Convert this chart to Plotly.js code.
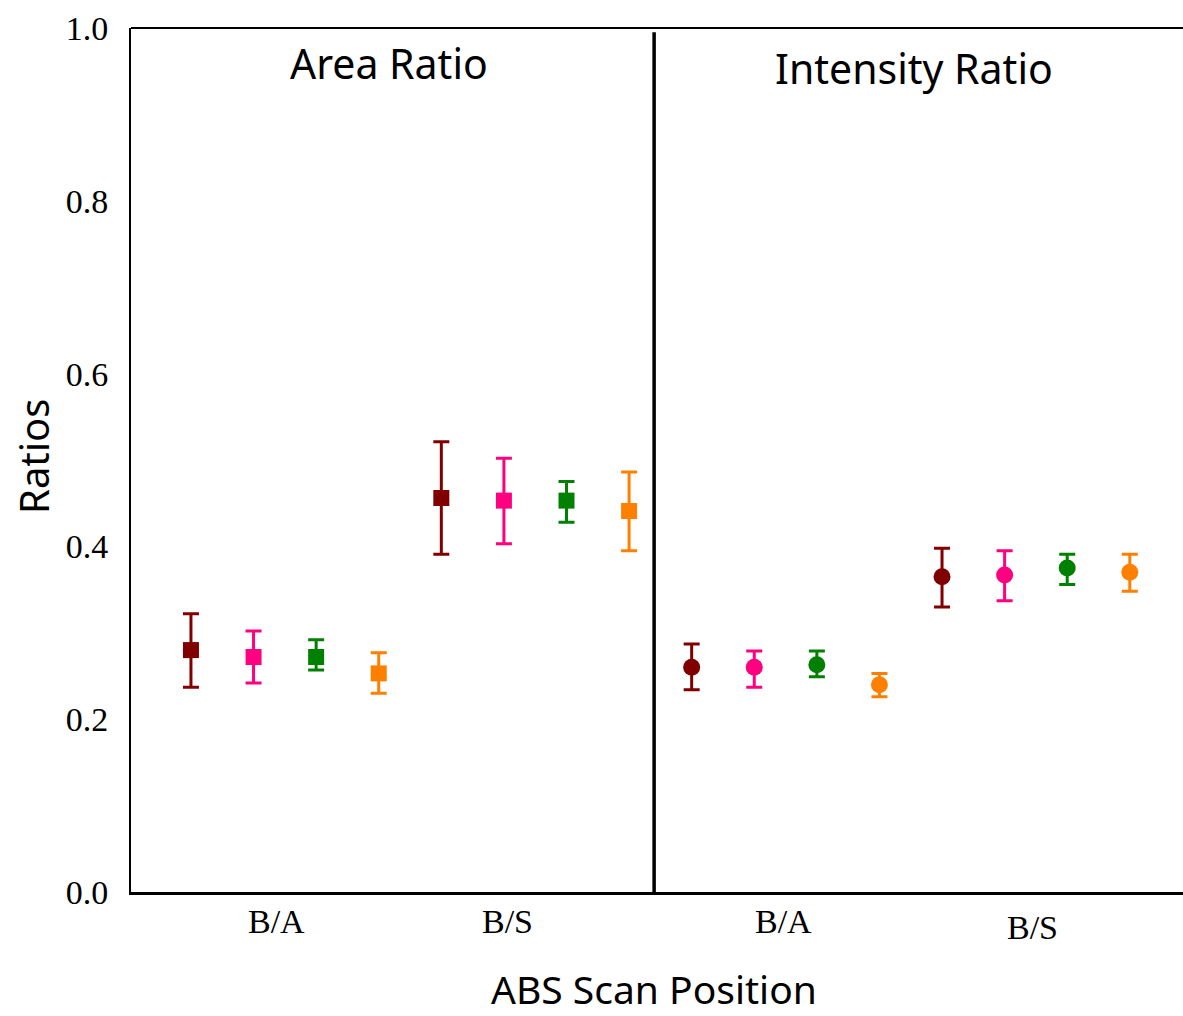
<!DOCTYPE html>
<html>
<head>
<meta charset="utf-8">
<script src="https://cdn.plot.ly/plotly-3.0.1.min.js"></script>
<style>html,body{margin:0;padding:0;background:#fff;}#chart{width:1183px;height:1016px;}</style>
</head>
<body>
<div id="chart"></div>
<script>
// Categories: panel / scan position
const panels = ['Area Ratio', 'Intensity Ratio'];
const scanPositions = ['B/A', 'B/S'];
// categories in order: Area B/A, Area B/S, Intensity B/A, Intensity B/S
const categoryLabels = ['B/A', 'B/S', 'B/A', 'B/S'];

const seriesNames = ['Series 1', 'Series 2', 'Series 3', 'Series 4'];
const seriesColors = ['#800000', '#FF0080', '#008000', '#FF8000'];

// mean values per series across the 4 categories
const series1Values = [0.280, 0.456, 0.260, 0.365];
const series2Values = [0.272, 0.453, 0.260, 0.367];
const series3Values = [0.272, 0.453, 0.263, 0.375];
const series4Values = [0.253, 0.441, 0.240, 0.370];

// upper error bar ends
const series1High = [0.322, 0.521, 0.287, 0.398];
const series2High = [0.302, 0.502, 0.279, 0.395];
const series3High = [0.292, 0.475, 0.279, 0.391];
const series4High = [0.277, 0.486, 0.253, 0.391];

// lower error bar ends
const series1Low = [0.237, 0.391, 0.234, 0.330];
const series2Low = [0.242, 0.403, 0.237, 0.337];
const series3Low = [0.257, 0.428, 0.249, 0.356];
const series4Low = [0.230, 0.395, 0.226, 0.348];

const yTicks = [0, 0.2, 0.4, 0.6, 0.8, 1.0];

const allValues = [series1Values, series2Values, series3Values, series4Values];
const allHigh = [series1High, series2High, series3High, series4High];
const allLow = [series1Low, series2Low, series3Low, series4Low];

const nSeries = seriesNames.length;
const traces = seriesNames.map((name, s) => {
  const vals = allValues[s];
  return {
    type: 'scatter',
    mode: 'markers',
    name: name,
    x: vals.map((v, c) => c * nSeries + s),
    y: vals,
    marker: {
      color: seriesColors[s],
      opacity: 1,
      size: vals.map((v, c) => c < 2 ? 16 : 17),
      symbol: vals.map((v, c) => c < 2 ? 'square' : 'circle'),
      line: {width: 0}
    },
    error_y: {
      type: 'data',
      symmetric: false,
      array: vals.map((v, c) => allHigh[s][c] - v),
      arrayminus: vals.map((v, c) => v - allLow[s][c]),
      color: seriesColors[s],
      thickness: 3,
      width: 8
    },
    showlegend: false,
    hoverinfo: 'x+y'
  };
});

const serif = 'Liberation Serif, Times New Roman, serif';
const sans = 'Noto Sans, DejaVu Sans, sans-serif';

const catLabelX = [1.36, 5.05, 9.46, 13.45];
const catLabelShift = [-29, -29, -29, -35];

const annotations = categoryLabels.map((t, i) => ({
  text: t, xref: 'x', yref: 'paper', x: catLabelX[i], y: 0,
  xanchor: 'center', yanchor: 'middle', yshift: catLabelShift[i],
  showarrow: false, font: {family: serif, size: 34, color: '#000'}
}));

annotations.push(
  {text: panels[0], xref: 'x', yref: 'paper', x: 3.16, y: 1, yshift: -35, xanchor: 'center', yanchor: 'middle',
   showarrow: false, font: {family: sans, size: 41, color: '#000'}},
  {text: panels[1], xref: 'x', yref: 'paper', x: 11.56, y: 1, yshift: -40, xanchor: 'center', yanchor: 'middle',
   showarrow: false, font: {family: sans, size: 41, color: '#000'}},
  {text: 'ABS Scan Position', xref: 'paper', yref: 'paper', x: 0.497, y: 0, yshift: -96, xanchor: 'center', yanchor: 'middle',
   showarrow: false, font: {family: sans, size: 39, color: '#000'}},
  {text: 'Ratios', xref: 'paper', yref: 'paper', x: 0, xshift: -98, y: 0.5, yshift: 3, xanchor: 'center', yanchor: 'middle',
   textangle: -90, showarrow: false, font: {family: sans, size: 40, color: '#000'}}
);

const layout = {
  width: 1183, height: 1016,
  margin: {l: 131, r: 0, t: 28, b: 124},
  paper_bgcolor: '#fff', plot_bgcolor: '#fff',
  showlegend: false,
  xaxis: {
    range: [-0.958, 15.85],
    showticklabels: false, ticks: '', showgrid: false, zeroline: false,
    showline: true, linecolor: '#000', linewidth: 3
  },
  yaxis: {
    range: [0, 1],
    tickvals: yTicks, tickformat: '.1f',
    ticks: '', ticklabelstandoff: 14,
    tickfont: {family: serif, size: 34, color: '#000'},
    showgrid: false, zeroline: false,
    showline: true, linecolor: '#000', linewidth: 2
  },
  shapes: [
    {type: 'line', xref: 'paper', yref: 'paper', x0: 0, x1: 1, y0: 1, y1: 1, line: {color: '#000', width: 2}},
    {type: 'line', xref: 'x', yref: 'paper', x0: 7.4, x1: 7.4, y0: 0, y1: 0.995, line: {color: '#000', width: 3.5}}
  ],
  annotations: annotations
};

Plotly.newPlot('chart', traces, layout, {displayModeBar: false, staticPlot: true});
</script>
</body>
</html>
